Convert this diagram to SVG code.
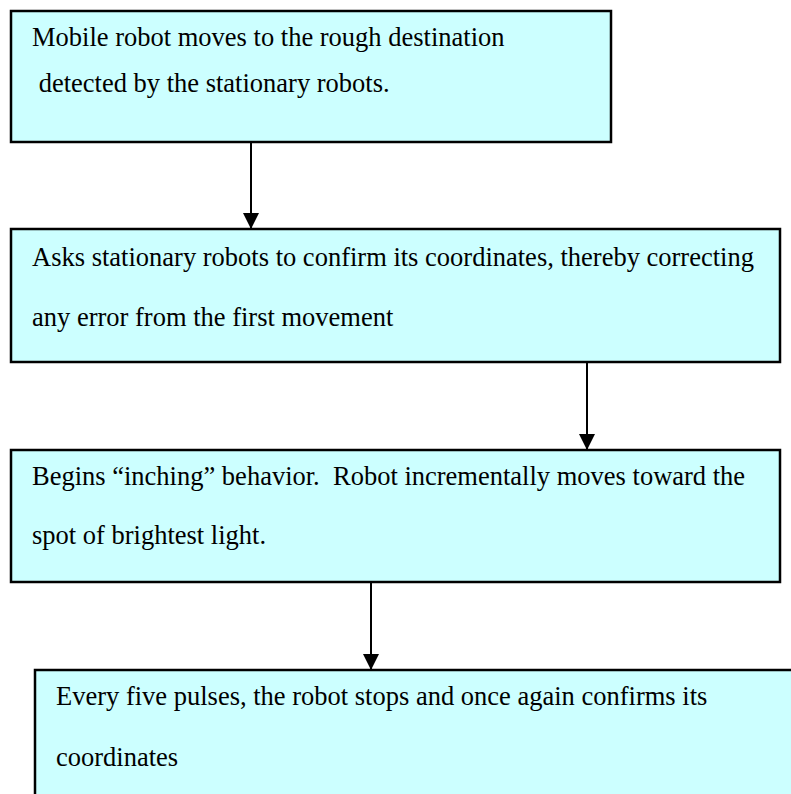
<svg xmlns="http://www.w3.org/2000/svg" width="791" height="794" viewBox="0 0 791 794">
  <style>
    .box { fill: #CCFFFF; stroke: #000000; stroke-width: 2.5; }
    .label { font-family: "Liberation Serif", "Times New Roman", serif; font-size: 26.5px; fill: #000000; }
    .link { stroke: #000000; stroke-width: 2; fill: none; }
  </style>
  <defs>
    <marker id="arrowhead" markerUnits="userSpaceOnUse" markerWidth="16" markerHeight="16" viewBox="0 0 16 16" refX="16" refY="8" orient="auto">
      <path d="M0,0 L16,8 L0,16 Z" fill="#000000"/>
    </marker>
  </defs>
  <rect width="791" height="794" fill="#FFFFFF"/>

  <g id="node-move">
    <rect class="box" x="11" y="11" width="600" height="131"/>
    <text class="label" x="32" y="46">Mobile robot moves to the rough destination</text>
    <text class="label" x="32" y="92" xml:space="preserve"> detected by the stationary robots.</text>
  </g>

  <g id="node-confirm">
    <rect class="box" x="11" y="229" width="769" height="133"/>
    <text class="label" x="32" y="266">Asks stationary robots to confirm its coordinates, thereby correcting</text>
    <text class="label" x="32" y="326">any error from the first movement</text>
  </g>

  <g id="node-inching">
    <rect class="box" x="11" y="450" width="769" height="132"/>
    <text class="label" x="32" y="485" xml:space="preserve">Begins “inching” behavior.  Robot incrementally moves toward the</text>
    <text class="label" x="32" y="544">spot of brightest light.</text>
  </g>

  <g id="node-pulses">
    <rect class="box" x="35" y="670" width="770" height="140"/>
    <text class="label" x="56" y="705">Every five pulses, the robot stops and once again confirms its</text>
    <text class="label" x="56" y="766">coordinates</text>
  </g>

  <g id="connectors">
    <line class="link" x1="251" y1="142" x2="251" y2="229" marker-end="url(#arrowhead)"/>
    <line class="link" x1="587" y1="362" x2="587" y2="450" marker-end="url(#arrowhead)"/>
    <line class="link" x1="371" y1="582" x2="371" y2="670" marker-end="url(#arrowhead)"/>
  </g>
</svg>
